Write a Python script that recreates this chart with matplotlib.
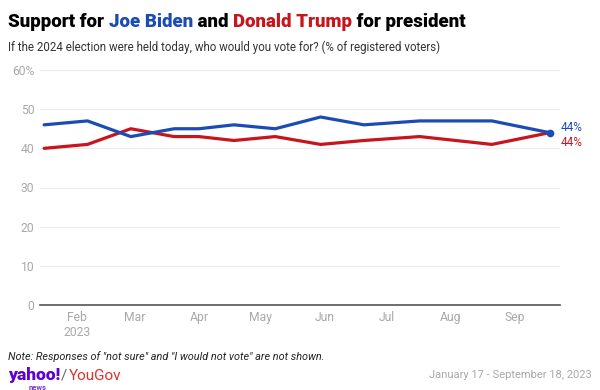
import matplotlib
matplotlib.use("Agg")
import matplotlib.pyplot as plt
import pandas as pd

# poll end dates and results (% of registered voters)
dates = pd.to_datetime([
    "2023-01-16", "2023-02-06", "2023-02-27", "2023-03-20", "2023-04-01",
    "2023-04-18", "2023-05-08", "2023-05-30", "2023-06-20", "2023-07-17",
    "2023-08-21", "2023-09-18",
])
biden = [46, 47, 43, 45, 45, 46, 45, 48, 46, 47, 47, 44]
trump = [40, 41, 45, 43, 43, 42, 43, 41, 42, 43, 41, 44]

yticks = [0, 10, 20, 30, 40, 50, 60]
ytick_labels = ["0", "10", "20", "30", "40", "50", "60%"]
month_ticks = pd.to_datetime(["2023-02-01", "2023-03-01", "2023-04-01", "2023-05-01",
                              "2023-06-01", "2023-07-01", "2023-08-01", "2023-09-01"])
month_labels = ["Feb\n2023", "Mar", "Apr", "May", "Jun", "Jul", "Aug", "Sep"]

BLUE = "#1a4cb4"
RED = "#c8141c"
GRAY = "#a8a8a8"

plt.rcParams["font.family"] = ["Roboto", "DejaVu Sans"]

fig = plt.figure(figsize=(6, 3.9), dpi=100)
ax = fig.add_axes([40 / 600, 1 - 305 / 390, 520 / 600, 235 / 390])

ax.plot(dates, trump, color=RED, lw=2.3, solid_capstyle="round", zorder=3)
ax.plot(dates, biden, color=BLUE, lw=2.3, solid_capstyle="round", zorder=4)
ax.plot(dates[-1], biden[-1], "o", color=BLUE, ms=4.5, zorder=5)

ax.annotate(f"{biden[-1]}%", (dates[-1], biden[-1]), xytext=(8, 4),
            textcoords="offset points", color=BLUE, fontsize=8.5, va="center")
ax.annotate(f"{trump[-1]}%", (dates[-1], trump[-1]), xytext=(8, -7),
            textcoords="offset points", color=RED, fontsize=8.5, va="center")

ax.set_xlim(pd.Timestamp("2023-01-14"), pd.Timestamp("2023-09-23"))
ax.set_ylim(0, 60)
ax.set_yticks(yticks)
ax.set_yticklabels(ytick_labels)
ax.set_xticks(month_ticks)
ax.set_xticklabels(month_labels)
ax.tick_params(axis="both", length=0, labelsize=8.7, labelcolor=GRAY)
ax.tick_params(axis="x", pad=4.5)
ax.tick_params(axis="y", pad=4)

ax.grid(axis="y", color="#ececec", lw=1)
for s in ["top", "right", "left"]:
    ax.spines[s].set_visible(False)
ax.spines["bottom"].set_color("#555555")
ax.spines["bottom"].set_linewidth(1.2)

# multi-coloured title, pieces placed one after another
fig.canvas.draw()
r = fig.canvas.get_renderer()
parts = [("Support for ", "black"), ("Joe Biden", BLUE), (" and ", "black"),
         ("Donald Trump", RED), (" for president", "black")]
x = 8
for txt, col in parts:
    t = fig.text(x / 600, 1 - 27 / 390, txt, fontsize=13.4, fontweight="heavy",
                 color=col, va="baseline")
    x = t.get_window_extent(r).x1

fig.text(8 / 600, 1 - 47 / 390,
         "If the 2024 election were held today, who would you vote for? (% of registered voters)",
         fontsize=8.3, color="#333333", va="center")

fig.text(8 / 600, 1 - 357 / 390,
         "Note: Responses of \"not sure\" and \"I would not vote\" are not shown.",
         fontsize=7.8, style="italic", color="#222222", va="center")

# logo
lg = fig.text(8 / 600, 1 - 380 / 390, "yahoo!", fontsize=12.5, fontweight="heavy",
              color="#5f01d1", va="baseline")
lx = lg.get_window_extent(r).x1
sl = fig.text((lx + 1) / 600, 1 - 380 / 390, "/", fontsize=11, color="#666666", va="baseline")
sx = sl.get_window_extent(r).x1
fig.text((sx + 1) / 600, 1 - 380 / 390, "YouGov", fontsize=11, color="#e0302a", va="baseline")
fig.text(29 / 600, 1 - 389.5 / 390, "news", fontsize=5.5, fontweight="bold", color="#7b2fd6",
         va="baseline")

fig.text(592 / 600, 1 - 375 / 390, "January 17 - September 18, 2023",
         fontsize=8, color=GRAY, ha="right", va="center")

fig.savefig("out.png", dpi=100)
